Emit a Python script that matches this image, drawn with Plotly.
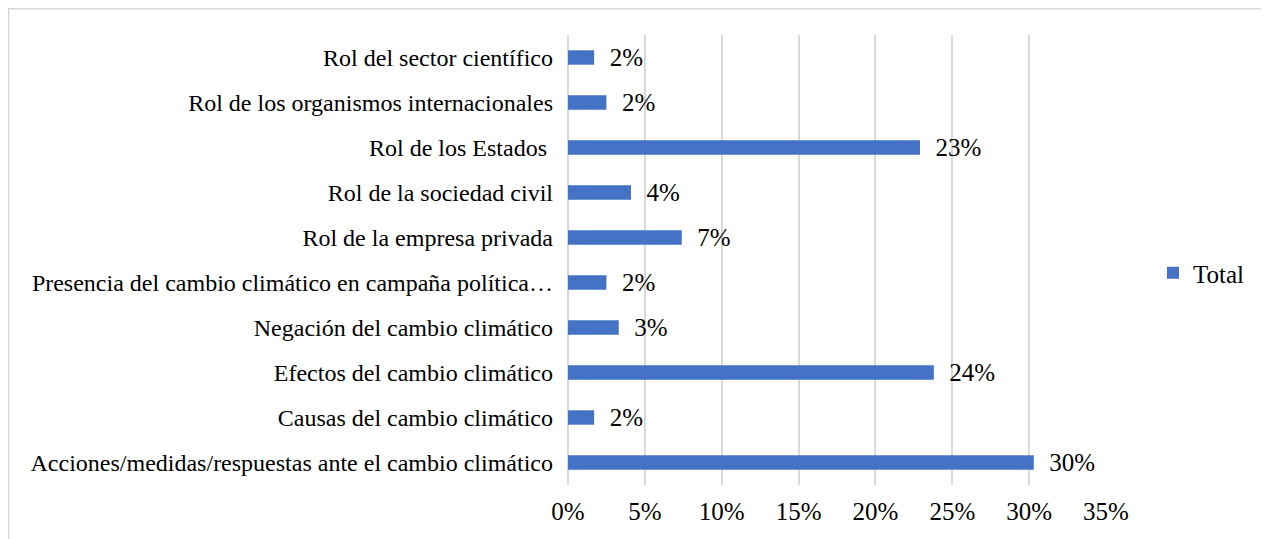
import plotly.graph_objects as go

categories = [
    "Rol del sector científico",
    "Rol de los organismos internacionales",
    "Rol de los Estados\u00a0",
    "Rol de la sociedad civil",
    "Rol de la empresa privada",
    "Presencia del cambio climático en campaña política…",
    "Negación del cambio climático",
    "Efectos del cambio climático",
    "Causas del cambio climático",
    "Acciones/medidas/respuestas ante el cambio climático",
]
values = [0.017, 0.025, 0.229, 0.041, 0.074, 0.025, 0.033, 0.238, 0.017, 0.303]
labels = ["2%", "2%", "23%", "4%", "7%", "2%", "3%", "24%", "2%", "30%"]
tick_vals = [0, 0.05, 0.10, 0.15, 0.20, 0.25, 0.30, 0.35]
tick_text = ["0%", "5%", "10%", "15%", "20%", "25%", "30%", "35%"]
series_name = "Total"

FONT = "Liberation Serif, Times New Roman, serif"
OFF = 8  # page body margin
W, H = 1261, 531
L, T = 568 - OFF, 35 - OFF
RX, BY = 1106 - OFF, 485 - OFF
R, B = W - RX, H - BY
pw, ph = RX - L, BY - T


def px(x):
    return (x - OFF - L) / pw


def py(y):
    return (BY - (y - OFF)) / ph


fig = go.Figure()
fig.add_trace(go.Bar(
    x=values, y=categories, orientation="h", name=series_name,
    marker=dict(color="#4472C4", line=dict(width=0)),
    width=0.32,
    text=["\u00a0\u00a0" + t for t in labels],
    textposition="outside", cliponaxis=False, constraintext="none",
    textfont=dict(family=FONT, size=25, color="#000000"),
    showlegend=True,
))

fig.update_layout(
    width=W, height=H,
    margin=dict(l=L, r=R, t=T, b=B, pad=0),
    paper_bgcolor="white", plot_bgcolor="white",
    font=dict(family=FONT, size=24, color="#000000"),
    xaxis=dict(range=[0, 0.35], tickvals=tick_vals, ticktext=tick_text,
               showgrid=True, gridcolor="#d9d9d9", gridwidth=1.5,
               zeroline=True, zerolinecolor="#d9d9d9", zerolinewidth=1.5,
               showline=False, ticks="", ticklabelstandoff=9,
               tickfont=dict(family=FONT, size=25, color="#000000")),
    yaxis=dict(categoryorder="array", categoryarray=categories,
               autorange="reversed", showgrid=False, zeroline=False,
               showline=False, ticks="", ticklabelstandoff=14,
               tickfont=dict(family=FONT, size=24, color="#000000")),
    legend=dict(x=px(1153), y=py(273), xanchor="left", yanchor="middle",
                font=dict(family=FONT, size=25, color="#000000"),
                bgcolor="rgba(0,0,0,0)"),
    shapes=[dict(type="rect", xref="paper", yref="paper",
                 x0=px(8.5), x1=px(1262),
                 y0=py(600), y1=py(8.5),
                 line=dict(color="#d9d9d9", width=2), fillcolor="rgba(0,0,0,0)",
                 layer="below")],
)

fig.write_html("out.html")
